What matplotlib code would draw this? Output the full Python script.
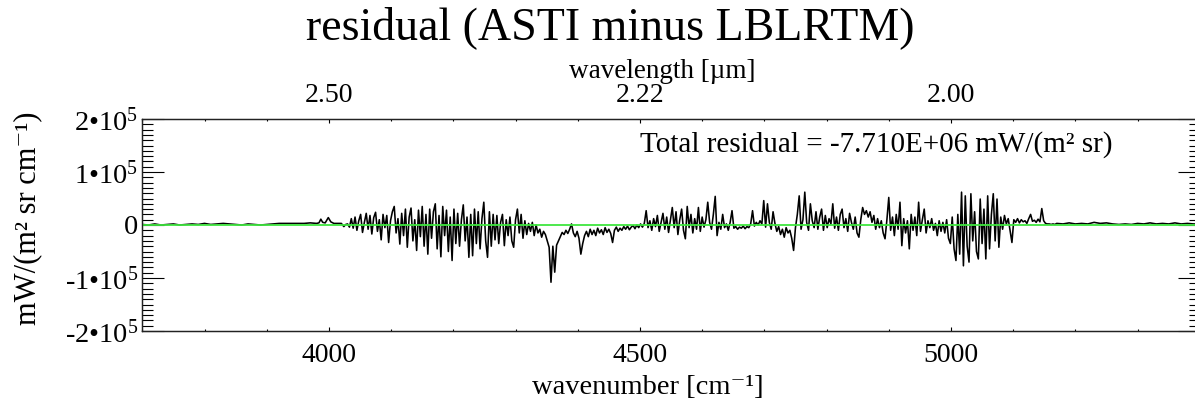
import numpy as np
import matplotlib
matplotlib.use("Agg")
import matplotlib.pyplot as plt
from matplotlib.ticker import FixedLocator, FixedFormatter, MultipleLocator

plt.rcParams["font.family"] = ["Liberation Serif", "DejaVu Serif"]
plt.rcParams["mathtext.fontset"] = "custom"
plt.rcParams["mathtext.rm"] = "Liberation Serif"
plt.rcParams["mathtext.it"] = "Liberation Serif:italic"

# ---- residual spectrum (values in 1e3 mW/(m^2 sr cm^-1)) ----
# quiet part below the band
wn_low = [3700, 3710, 3720, 3730, 3740, 3750, 3760, 3770, 3780, 3790,
          3800, 3810, 3820, 3830, 3840, 3850, 3860, 3870, 3880, 3890,
          3900, 3910, 3920, 3930, 3940, 3950, 3960, 3970, 3980,
          3984, 3987, 3990, 3994, 3999, 4003, 4008, 4014, 4020, 4024, 4027]
res_low = [1, 0, 2, 0, 1, 2, 0, 1, 2, 1,
           3, 1, 2, 3, 2, 1, 0, 2, 1, 0,
           1, 2, 3, 3, 3, 3, 3, 4, 3,
           4, 11, 5, 4, 14, 6, 3, 3, 3, -3, 1]

# active band, sampled every 3 cm^-1 from 4030
band_start = 4030
band_step = 3
res_band = [
    2, -4, 12, -6, 15, -10, 8, 20, -14, 5, 22, -8, 18, -17, 14, 24, -12, 10, -28, 20,
    -5, 18, -33, 8, 25, 35, -15, 12, -36, 22, -20, 30, -42, 15, 32, -30, 10, -48, 28, -22,
    35, -40, 20, -55, 30, -25, 25, 40, -45, 18, -60, 35, -20, 28, -50, 15, -67, 30, -35, 22,
    -40, 10, 38, -30, 15, -61, 20, -58, 30, -35, 25, -45, 12, 43, -30, -61, 25, -40, 20, -28,
    18, -35, 5, 20, -39, 10, -20, 15, -30, -42, 10, 30, -15, 20, -25, 8, -18, 3, -12, 5,
    -20, 0, -15, -8, -23, -12, -18, -30, -42, -108, -40, -89, -38, -30, -22, -14, -18, -10, -16, -8,
    2, -15, -22, -12, -25, -55, -35, -20, -12, -22, -8, -18, -10, -20, -6, -15, -9, -18, -5, -14,
    -8, -16, -33, -10, -4, -12, -6, -10, -3, -8, -2, -9, -4, -1, -7, 0, -5, 2, -4, 3,
    27, -5, 8, -10, 12, -3, 18, -12, 5, 22, -8, 15, -14, 10, 33, -5, 25, -18, 10, 30,
    -10, -26, 35, -5, 20, -15, 12, -8, 33, -12, 15, -4, 10, 43, 5, -8, 20, 54, -20, 5,
    -8, 20, -5, 2, -10, 5, 27, -6, -3, -8, -4, -6, -2, -7, -3, -5, 2, 27, -2, 5,
    0, 8, 2, 46, -4, 40, 5, -8, 25, 3, -12, -3, -18, -8, -23, -5, -15, -10, -25, -48,
    -5, 20, 55, -8, 10, 62, 5, -10, 40, 8, -5, 25, -8, 15, 30, -10, 18, -5, 12, 2,
    40, -6, 15, -10, 20, 30, -5, 12, -12, 22, 5, -8, 15, -15, -23, 10, 33, 20, 27, 15,
    25, 5, 18, -8, 12, -5, 8, -15, -26, 10, 52, -10, 15, -20, 20, -8, 43, -39, 12, -15,
    8, -45, 20, -10, 15, -20, 43, -12, 10, 30, -15, 8, -5, 12, -10, 3, -20, 8, -12, 5,
    -15, 10, -25, -35, 15, -45, -67, 20, -55, 62, -77, 55, -40, -70, 59, -30, 25, -50, -64, 49,
    -35, 30, -64, 55, -45, 20, 59, -30, 49, -42, 15, -8, 18, 2, 12, -10, -33, 10, 5, 12,
    4, 10, 6, 8, 3, 12, 20, 7, 9, 5, 11, 6, 31, 8, 3, 2, 2, 1, 2, 1,
]

# quiet part above the band
wn_high = [5170, 5180, 5190, 5200, 5210, 5220, 5230, 5240, 5250, 5260, 5270, 5280,
           5290, 5300, 5310, 5320, 5330, 5340, 5350, 5360, 5370, 5380, 5390, 5400]
res_high = [3, 2, 4, 2, 3, 2, 5, 3, 4, 2, 1, 2,
            1, 3, 2, 4, 2, 3, 2, 4, 2, 3, 2, 2]

total_residual = -7.710e6

# axis ticks and labels
wn_major = [4000, 4500, 5000]
wn_labels = ["4000", "4500", "5000"]
wl_labels = ["2.50", "2.22", "2.00"]
y_major = [-2e5, -1e5, 0, 1e5, 2e5]
y_labels = ["-2\u202210$^5$", "-1\u202210$^5$", "0", "1\u202210$^5$", "2\u202210$^5$"]

# ---- assemble the spectrum ----
wn_band = band_start + band_step * np.arange(len(res_band))
wn = np.concatenate([wn_low, wn_band, wn_high])
res = np.concatenate([res_low, res_band, res_high]) * 1e3

W, H = 1195, 409
fig = plt.figure(figsize=(W / 100, H / 100), dpi=100)
px_left, px_right, px_top, px_bottom = 142.3, 1199.8, 119, 331
ax = fig.add_axes([px_left / W, (H - px_bottom) / H,
                   (px_right - px_left) / W, (px_bottom - px_top) / H])

ax.plot(wn, res, color="black", lw=1.15, zorder=2)
ax.axhline(0, color="#3fe63f", lw=1.3, zorder=3)

ax.set_xlim(3700, 5400)
ax.set_ylim(-2e5, 2e5)

ax.xaxis.set_major_locator(FixedLocator(wn_major))
ax.xaxis.set_major_formatter(FixedFormatter(wn_labels))
ax.xaxis.set_minor_locator(MultipleLocator(100))
ax.yaxis.set_major_locator(FixedLocator(y_major))
ax.yaxis.set_major_formatter(FixedFormatter(y_labels))
ax.yaxis.set_minor_locator(MultipleLocator(1e4))

ax.tick_params(axis="x", which="major", direction="in", length=3.0, width=0.8,
               top=False, bottom=True, labelsize=20, pad=9)
ax.tick_params(axis="x", which="minor", direction="in", length=1.5, width=0.8,
               top=False, bottom=True)
ax.tick_params(axis="y", which="major", direction="in", length=15.8, width=0.8,
               left=True, right=True, labelsize=20.5, pad=3)
ax.tick_params(axis="y", which="minor", direction="in", length=8, width=0.8,
               left=True, right=True)

# top axis: wavelength in micrometres at the same wavenumber positions
ax2 = ax.twiny()
ax2.set_xlim(ax.get_xlim())
ax2.xaxis.set_major_locator(FixedLocator(wn_major))
ax2.xaxis.set_major_formatter(FixedFormatter(wl_labels))
ax2.xaxis.set_minor_locator(MultipleLocator(100))
ax2.tick_params(axis="x", which="major", direction="in", length=3.0, width=0.8,
                labelsize=20, pad=8)
ax2.tick_params(axis="x", which="minor", direction="in", length=1.5, width=0.8)

for a in (ax, ax2):
    for s in a.spines.values():
        s.set_linewidth(0.9)
        s.set_color("#222222")

fig.text(610 / W, 1 - 28 / H, "residual (ASTI minus LBLRTM)", ha="center", va="center",
         fontsize=33)
fig.text(662 / W, 1 - 72 / H, "wavelength [\u00b5m]", ha="center", va="center", fontsize=19.5)
fig.text(648 / W, 1 - 388 / H, "wavenumber [cm\u207b\u00b9]", ha="center", va="center",
         fontsize=20.5)
fig.text(28 / W, 1 - 218 / H, "mW/(m\u00b2 sr cm\u207b\u00b9)", ha="center", va="center",
         rotation=90, fontsize=22)
fig.text(640 / W, 1 - 145 / H,
         "Total residual = %.3E mW/(m\u00b2 sr)" % total_residual,
         ha="left", va="center", fontsize=21)

fig.savefig("out.png", dpi=100)
